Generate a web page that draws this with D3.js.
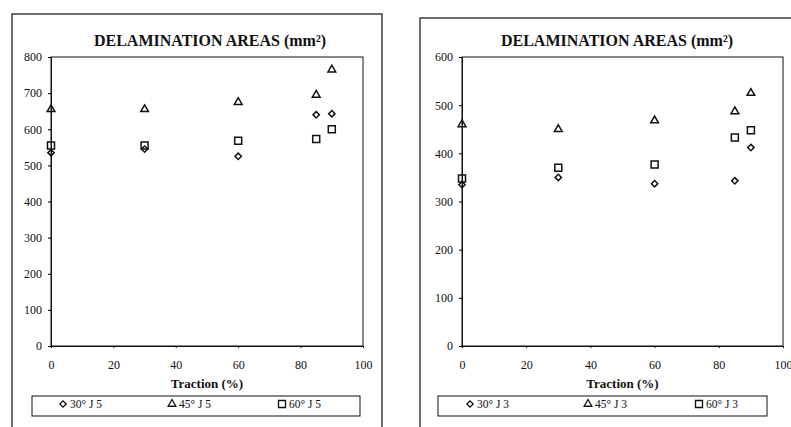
<!DOCTYPE html>
<html>
<head>
<meta charset="utf-8">
<script src="https://cdn.jsdelivr.net/npm/d3@7"></script>
<style>
  body { margin: 0; background: #fff; }
  svg { display: block; }
  text { font-family: "Liberation Serif", "DejaVu Serif", serif; fill: #111; }
</style>
</head>
<body>
<div id="chart"></div>
<script>
// data
var traction = [0, 30, 60, 85, 90];
var xTicks = [0, 20, 40, 60, 80, 100];

var namesJ5 = ["30° J 5", "45° J 5", "60° J 5"];
var j5_30 = [535, 545, 525, 640, 643];
var j5_45 = [655, 655, 675, 695, 765];
var j5_60 = [555, 555, 568, 573, 600];
var yTicksJ5 = [0, 100, 200, 300, 400, 500, 600, 700, 800];

var namesJ3 = ["30° J 3", "45° J 3", "60° J 3"];
var j3_30 = [335, 350, 337, 343, 412];
var j3_45 = [460, 450, 468, 487, 525];
var j3_60 = [348, 370, 377, 433, 448];
var yTicksJ3 = [0, 100, 200, 300, 400, 500, 600];

var W = 791, H = 427;

var svg = d3.select("#chart")
    .append("svg")
    .attr("width", W)
    .attr("height", H);

// marker shapes: diamond, triangle, square
var shapes = [
    { type: d3.symbolSquare, size: 20, rot: 45 },
    { type: d3.symbolTriangle, size: 26, rot: 0 },
    { type: d3.symbolSquare, size: 49, rot: 0 }
];

function drawChart(o) {
    var g = svg.append("g");

    // outer frame
    g.append("rect")
        .attr("x", o.frame[0]).attr("y", o.frame[1])
        .attr("width", o.frame[2]).attr("height", o.frame[3])
        .attr("fill", "none").attr("stroke", "#111").attr("stroke-width", 1.2);

    var x = d3.scaleLinear().domain([0, 100]).range([o.left, o.right]);
    var y = d3.scaleLinear().domain([0, d3.max(o.yTicks)]).range([o.bottom, o.top]);

    // plot area box
    g.append("rect")
        .attr("x", o.left).attr("y", o.top)
        .attr("width", o.right - o.left).attr("height", o.bottom - o.top)
        .attr("fill", "none").attr("stroke", "#111").attr("stroke-width", 1);

    // y axis
    var ya = g.append("g")
        .attr("transform", "translate(" + o.left + ",0)")
        .call(d3.axisLeft(y).tickValues(o.yTicks).tickSize(3).tickPadding(6));
    ya.select(".domain").attr("stroke", "#111");
    ya.selectAll("text").attr("font-size", "12px").style("font-family", "Liberation Serif");

    // x axis
    var xa = g.append("g")
        .attr("transform", "translate(0," + o.bottom + ")")
        .call(d3.axisBottom(x).tickValues(xTicks).tickSize(2).tickPadding(12));
    xa.select(".domain").attr("stroke", "#111");
    xa.selectAll("text").attr("font-size", "12px").style("font-family", "Liberation Serif");

    // title
    g.append("text")
        .attr("x", o.titleX).attr("y", 46)
        .attr("text-anchor", "middle")
        .attr("font-size", "16px")
        .attr("font-weight", "bold")
        .text("DELAMINATION AREAS (mm²)");

    // x axis title
    g.append("text")
        .attr("x", (o.left + o.right) / 2).attr("y", 388)
        .attr("text-anchor", "middle")
        .attr("font-size", "13px")
        .attr("font-weight", "bold")
        .text("Traction (%)");

    // points
    o.series.forEach(function(vals, s) {
        var sym = d3.symbol().type(shapes[s].type).size(shapes[s].size);
        g.selectAll(".pt" + s)
            .data(vals)
            .enter()
            .append("path")
            .attr("d", sym)
            .attr("transform", function(d, i) {
                return "translate(" + x(traction[i]) + "," + y(d) + ") rotate(" + shapes[s].rot + ")";
            })
            .attr("fill", "none")
            .attr("stroke", "#111")
            .attr("stroke-width", 1.5);
    });

    // legend box
    g.append("rect")
        .attr("x", o.legend[0]).attr("y", 396)
        .attr("width", o.legend[1] - o.legend[0]).attr("height", 20)
        .attr("fill", "none").attr("stroke", "#111").attr("stroke-width", 1);

    o.names.forEach(function(name, s) {
        var lx = o.legendItems[s];
        var sym = d3.symbol().type(shapes[s].type).size(shapes[s].size);
        g.append("path")
            .attr("d", sym)
            .attr("transform", "translate(" + lx + ",404) rotate(" + shapes[s].rot + ")")
            .attr("fill", "none")
            .attr("stroke", "#111")
            .attr("stroke-width", 1.3);
        g.append("text")
            .attr("x", lx + 7).attr("y", 408)
            .attr("font-size", "11.5px")
            .text(name);
    });
}

drawChart({
    frame: [12, 14, 370, 430],
    left: 51, right: 363, top: 57, bottom: 346,
    titleX: 210,
    yTicks: yTicksJ5,
    series: [j5_30, j5_45, j5_60],
    names: namesJ5,
    legend: [32, 360],
    legendItems: [63, 172, 282]
});

drawChart({
    frame: [420, 18, 400, 430],
    left: 462, right: 783, top: 57, bottom: 346,
    titleX: 617,
    yTicks: yTicksJ3,
    series: [j3_30, j3_45, j3_60],
    names: namesJ3,
    legend: [438, 767],
    legendItems: [470, 588, 699]
});
</script>
</body>
</html>
